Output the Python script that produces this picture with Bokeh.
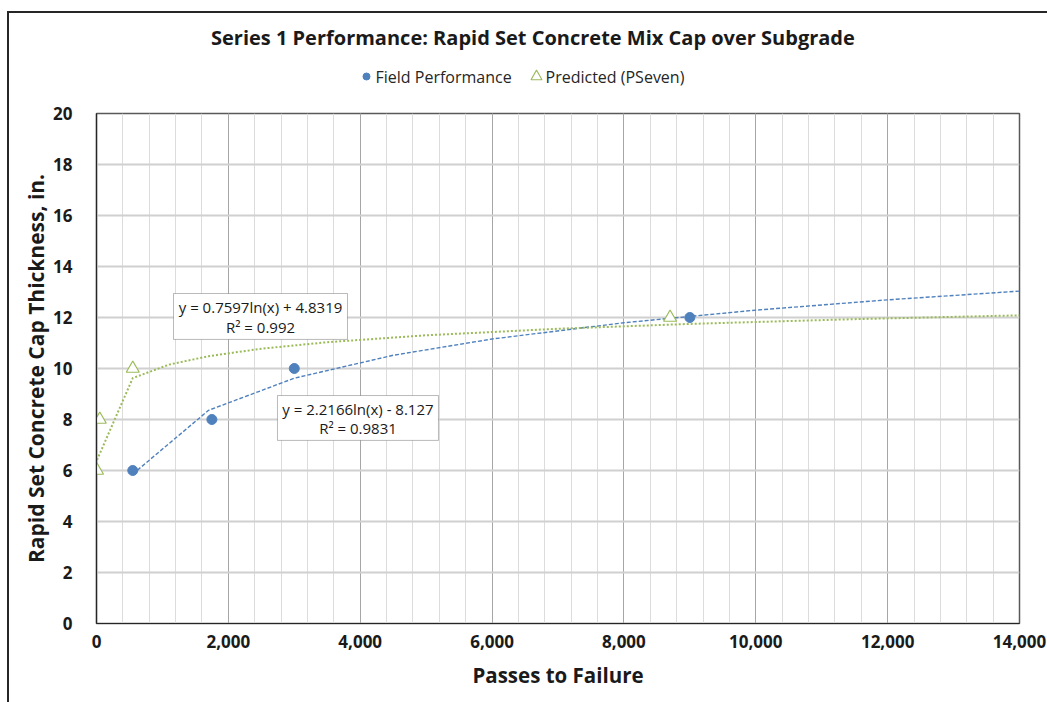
import numpy as np
from bokeh.plotting import figure
from bokeh.layouts import column
from bokeh.models import (Range1d, SingleIntervalTicker, NumeralTickFormatter,
                          Label, BoxAnnotation)
from bokeh.core.properties import value
from bokeh.embed import file_html
from bokeh.resources import INLINE

# ---- data ----
field_x = [550, 1750, 3000, 9000]
field_y = [6, 8, 10, 12]
pred_x = [8, 50, 550, 8700]
pred_y = [6, 8, 10, 12]

# logarithmic trendlines shown on the chart: y = a*ln(x) + b
field_a, field_b = 2.2166, -8.127
pred_a, pred_b = 0.7597, 4.8319
field_eq = ["y = 2.2166ln(x) - 8.127", "R² = 0.9831"]
pred_eq = ["y = 0.7597ln(x) + 4.8319", "R² = 0.992"]
field_trend_x = [550, 1700, 3000, 4500, 6000, 8000, 10000, 12000, 14000]
pred_trend_x = [8, 550, 1100, 1700, 2500, 3500, 5000, 7000, 9000, 11500, 14000]

title_text = "Series 1 Performance:  Rapid Set Concrete Mix Cap over Subgrade"
x_title = "Passes to Failure"
y_title = "Rapid Set Concrete Cap Thickness, in."
series_names = ["Field Performance", "Predicted (PSeven)"]

BLUE = "#4F81BD"
GREEN = "#9BBB59"
FONT = "Open Sans"
DARK = "#1a1a1a"
W = 1038
HEAD_H = 80

# ---- header: title + legend (header ranges are in page pixels) ----
h = figure(width=W, height=HEAD_H, output_backend="svg", toolbar_location=None,
           x_range=Range1d(96, 1019), y_range=Range1d(93, 13), min_border=0)
h.axis.visible = False
h.grid.visible = False
h.outline_line_color = None
h.border_fill_color = "white"
h.text(x=[535], y=[37], text=[title_text], text_align="center",
       text_baseline="middle", text_font=value(FONT), text_font_size="20px",
       text_font_style="bold", text_color=DARK)
leg_y = 76
h.scatter([366], [leg_y], marker="circle", size=7, fill_color=BLUE, line_color=BLUE)
h.scatter([536], [leg_y], marker="triangle", size=11, fill_color="white",
          line_color=GREEN, line_width=1.1)
h.text(x=[375, 545], y=[leg_y, leg_y], text=series_names, text_align="left",
       text_baseline="middle", text_font=value(FONT), text_font_size="16px",
       text_color="#262626")

# ---- main chart ----
p = figure(width=W, height=609, output_backend="svg", toolbar_location=None,
           x_range=Range1d(0, 14000), y_range=Range1d(0, 20),
           min_border_left=87, min_border_right=28, min_border_top=20,
           min_border_bottom=79)
p.outline_line_color = "#595959"
p.outline_line_width = 1.5
p.background_fill_color = "white"
p.border_fill_color = "white"

p.xaxis.ticker = SingleIntervalTicker(interval=2000, num_minor_ticks=5)
p.yaxis.ticker = SingleIntervalTicker(interval=2, num_minor_ticks=0)
p.xaxis.formatter = NumeralTickFormatter(format="0,0")
for ax in (p.xaxis, p.yaxis):
    ax.major_tick_line_color = None
    ax.minor_tick_line_color = None
    ax.axis_line_color = "#262626"
    ax.axis_line_width = 1.2
    ax.major_label_text_font = FONT
    ax.major_label_text_font_size = "17px"
    ax.major_label_text_font_style = "bold"
    ax.major_label_text_color = DARK
    ax.axis_label_text_font = FONT
    ax.axis_label_text_font_style = "bold"
    ax.axis_label_text_color = DARK
p.xaxis.axis_label = x_title
p.yaxis.axis_label = y_title
p.xaxis.axis_label_text_font_size = "20.5px"
p.yaxis.axis_label_text_font_size = "21px"
p.xaxis.major_label_standoff = 5
p.yaxis.major_label_standoff = 18
p.xaxis.axis_label_standoff = 10
p.yaxis.axis_label_standoff = 0

p.xgrid.grid_line_color = "#a6a6a6"
p.xgrid.grid_line_width = 1
p.xgrid.minor_grid_line_color = "#dcdcdc"
p.xgrid.minor_grid_line_width = 1
p.ygrid.grid_line_color = "#d0d0d0"
p.ygrid.grid_line_width = 2

fx = np.array(field_trend_x, dtype=float)
px = np.array(pred_trend_x, dtype=float)
p.line(fx, field_a * np.log(fx) + field_b, line_color=BLUE, line_width=1.4,
       line_dash="4 2")
p.line(px, pred_a * np.log(px) + pred_b, line_color=GREEN, line_width=2.0,
       line_dash="2 2")

p.scatter(field_x, field_y, marker="circle", size=10, fill_color=BLUE, line_color=BLUE)
p.scatter(pred_x, pred_y, marker="triangle", size=13, fill_color="white",
          line_color=GREEN, line_width=1.2)

boxes = [(1168, 3807, 11.14, 12.94, pred_eq, 2488, 12.43, 11.61),
         (2745, 5187, 7.18, 8.94, field_eq, 3966, 8.43, 7.65)]
for l, r, b, t, eq, cx, y1, y2 in boxes:
    p.add_layout(BoxAnnotation(left=l, right=r, bottom=b, top=t,
                               fill_color="white", fill_alpha=1.0,
                               line_color=DARK, line_width=1))
    for txt, yy in zip(eq, (y1, y2)):
        p.add_layout(Label(x=cx, y=yy, text=txt, text_align="center",
                           text_baseline="middle", text_font=FONT,
                           text_font_size="15px", text_color=DARK))

layout = column(h, p, spacing=0)
layout.styles = {"box-sizing": "content-box", "margin-left": "7px", "margin-top": "11px",
                 "border-left": "2px solid #262626", "border-top": "2px solid #262626"}

open("out.html", "w").write(file_html(layout, INLINE))
